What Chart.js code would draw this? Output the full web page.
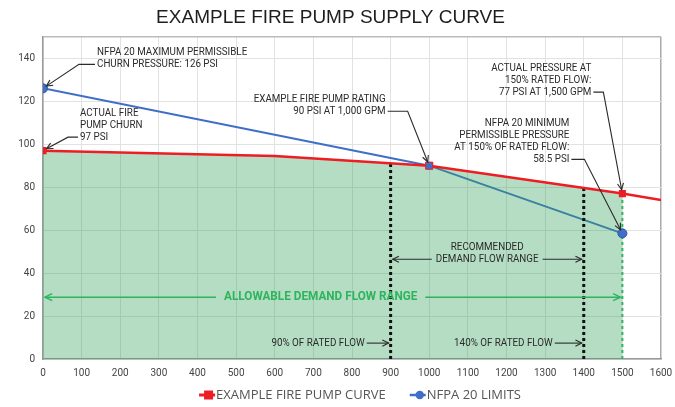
<!DOCTYPE html>
<html><head><meta charset="utf-8">
<script src="https://cdn.jsdelivr.net/npm/chart.js@4/dist/chart.umd.min.js"></script>
<style>html,body{margin:0;padding:0;background:#fff}#wrap{width:675px;height:407px}</style>
</head><body><div id="wrap"><canvas id="c" width="675" height="407"></canvas></div>
<script>
// ---- data ----
const pumpFlow = [0, 600, 1000, 1500, 1600];
const pumpPressure = [97, 94.5, 90, 77, 74];
const pumpMarked = [true, false, true, true, false];
const nfpaFlow = [0, 1000, 1500];
const nfpaPressure = [126, 90, 58.5];
const xTicks = [0,100,200,300,400,500,600,700,800,900,1000,1100,1200,1300,1400,1500,1600];
const yTicks = [0,20,40,60,80,100,120,140];
const yMax = 150;
const guideFlows = [900, 1400];        // 90% and 140% of rated flow
const guideTops = [91.3, 79.6];        // pump curve pressure at those flows
const allowableFlow = 1500;            // 150% of rated flow
const allowableTop = 77;

const RED = '#ee1d23', BLUE = '#3f6fc8', GREEN = '#2fb45e';

function pts(xs, ys){ return xs.map((x,i)=>({x:x, y:ys[i]})); }
const fillFlow = pumpFlow.filter(x => x <= allowableFlow);

const notes = [
  {lines:['NFPA 20 MAXIMUM PERMISSIBLE','CHURN PRESSURE: 126 PSI'], target:[0,126], dx:54, dy:-36, align:'left', elbow:16},
  {lines:['ACTUAL FIRE','PUMP CHURN','97 PSI'], target:[0,97], dx:37, dy:-37.5, align:'left', elbow:10},
  {lines:['EXAMPLE FIRE PUMP RATING','90 PSI AT 1,000 GPM'], target:[1000,90], dx:-43.6, dy:-66.5, align:'right', elbow:20},
  {lines:['ACTUAL PRESSURE AT','150% RATED FLOW:','77 PSI AT 1,500 GPM'], target:[1500,77], dx:-31, dy:-125.5, align:'right', elbow:10},
  {lines:['NFPA 20 MINIMUM','PERMISSIBLE PRESSURE','AT 150% OF RATED FLOW:','58.5 PSI'], target:[1500,58.5], dx:-53, dy:-110, align:'right', elbow:13}
];

const NOTE_FONT = '10px Roboto', TX = 0.98, LH = 12;

function drawText(ctx, txt, x, y, align, font, color, sx){
  ctx.save();
  ctx.font = font; ctx.fillStyle = color; ctx.textBaseline = 'middle'; ctx.textAlign = align;
  ctx.translate(x, y); ctx.scale(sx, 1); ctx.fillText(txt, 0, 0);
  ctx.restore();
}
function textW(ctx, txt, font, sx){ ctx.save(); ctx.font = font; const w = ctx.measureText(txt).width*sx; ctx.restore(); return w; }
function arrowHead(ctx, fx, fy, tx, ty, size){
  const a = Math.atan2(ty-fy, tx-fx);
  ctx.beginPath();
  ctx.moveTo(tx - size*Math.cos(a-0.45), ty - size*Math.sin(a-0.45));
  ctx.lineTo(tx, ty);
  ctx.lineTo(tx - size*Math.cos(a+0.45), ty - size*Math.sin(a+0.45));
  ctx.stroke();
}
function arrowLine(ctx, x1, y1, x2, y2, color, w, size){
  ctx.save(); ctx.strokeStyle = color; ctx.lineWidth = w;
  ctx.beginPath(); ctx.moveTo(x1,y1); ctx.lineTo(x2,y2); ctx.stroke();
  arrowHead(ctx, x1, y1, x2, y2, size);
  ctx.restore();
}

const annotations = {
  id: 'annotations',
  afterDatasetsDraw(chart){
    const ctx = chart.ctx, xs = chart.scales.x, ys = chart.scales.y;
    const ink = '#2b2b2b';
    notes.forEach(n => {
      const tx = xs.getPixelForValue(n.target[0]), ty = ys.getPixelForValue(n.target[1]);
      const x0 = tx + n.dx, y0 = ty + n.dy;
      n.lines.forEach((l,i)=> drawText(ctx, l, x0, y0 + i*LH, n.align, NOTE_FONT, ink, TX));
      const yl = y0 + (n.lines.length-1)*LH;
      const sx = n.align==='left' ? x0 - 2 : x0 + 2;
      const ex = n.align==='left' ? sx - n.elbow : sx + n.elbow;
      const ang = Math.atan2(ty - yl, tx - ex);
      const px = tx - 4*Math.cos(ang), py = ty - 4*Math.sin(ang);
      ctx.save(); ctx.strokeStyle = ink; ctx.lineWidth = 1.1;
      ctx.beginPath(); ctx.moveTo(sx, yl); ctx.lineTo(ex, yl); ctx.lineTo(px, py); ctx.stroke();
      arrowHead(ctx, ex, yl, px, py, 7);
      ctx.restore();
    });
    // recommended range
    const g1 = xs.getPixelForValue(guideFlows[0]), g2 = xs.getPixelForValue(guideFlows[1]);
    const rc = (g1+g2)/2, ry = ys.getPixelForValue(52);
    drawText(ctx, 'RECOMMENDED', rc, ry, 'center', NOTE_FONT, ink, TX);
    drawText(ctx, 'DEMAND FLOW RANGE', rc, ry+LH, 'center', NOTE_FONT, ink, TX);
    const rw = textW(ctx, 'DEMAND FLOW RANGE', NOTE_FONT, TX);
    arrowLine(ctx, rc - rw/2 - 4, ry+LH, g1 + 2, ry+LH, ink, 1.1, 7);
    arrowLine(ctx, rc + rw/2 + 4, ry+LH, g2 - 2, ry+LH, ink, 1.1, 7);
    // allowable range
    const a0 = xs.getPixelForValue(0), a1 = xs.getPixelForValue(allowableFlow);
    const ac = (a0+a1)/2 - 12, ay = ys.getPixelForValue(28.8);
    const AF = 'bold 12px Roboto';
    drawText(ctx, 'ALLOWABLE DEMAND FLOW RANGE', ac, ay, 'center', AF, GREEN, 0.98);
    const aw = textW(ctx, 'ALLOWABLE DEMAND FLOW RANGE', AF, 0.98);
    arrowLine(ctx, ac - aw/2 - 8, ay, a0 + 2, ay, GREEN, 1.5, 8);
    arrowLine(ctx, ac + aw/2 + 8, ay, a1 - 2, ay, GREEN, 1.5, 8);
    // 90% / 140%
    const by = ys.getPixelForValue(7.4);
    drawText(ctx, '90% OF RATED FLOW', g1 - 26, by, 'right', NOTE_FONT, ink, TX);
    arrowLine(ctx, g1 - 24, by, g1 - 2, by, ink, 1.1, 7);
    drawText(ctx, '140% OF RATED FLOW', g2 - 31, by, 'right', NOTE_FONT, ink, TX);
    arrowLine(ctx, g2 - 29, by, g2 - 2, by, ink, 1.1, 7);
  }
};

// custom legend (line + marker), drawn under the x axis
const lineLegend = {
  id: 'lineLegend',
  afterDraw(chart){
    const ctx = chart.ctx, ds = chart.data.datasets;
    const LF = '13px "Open Sans"', y = chart.height - 12;
    const items = [{ds: ds[0], color: RED, mark: 'rect', lw: 3}, {ds: ds[1], color: BLUE, mark: 'circle', lw: 2.5}];
    const widths = items.map(it => 16 + 1 + textW(ctx, it.ds.label, LF, 1));
    const gap = 24, total = widths[0] + widths[1] + gap;
    let x = (chart.chartArea.left + chart.chartArea.right)/2 + 8 - total/2;
    items.forEach((it, i) => {
      ctx.save();
      ctx.strokeStyle = it.color; ctx.fillStyle = it.color; ctx.lineWidth = it.lw;
      ctx.beginPath(); ctx.moveTo(x, y); ctx.lineTo(x + 16, y); ctx.stroke();
      if (it.mark === 'rect') ctx.fillRect(x + 5, y - 4.5, 9, 9);
      else { ctx.beginPath(); ctx.arc(x + 10, y, 4.2, 0, Math.PI*2); ctx.fill(); }
      ctx.restore();
      drawText(ctx, it.ds.label, x + 17, y, 'left', LF, '#555', 1);
      x += widths[i] + gap;
    });
  }
};

const guideSets = guideFlows.map((f,i)=>({
  label: 'guide'+i, data: [{x:f,y:0},{x:f,y:guideTops[i]}],
  borderColor: '#111', borderWidth: 3, borderDash: [3,3], pointRadius: 0, fill: false, order: 1
}));

new Chart(document.getElementById('c'), {
  type: 'line',
  data: { datasets: [
    { label: 'EXAMPLE FIRE PUMP CURVE', data: pts(pumpFlow, pumpPressure), borderColor: RED, backgroundColor: RED,
      borderWidth: 2.5, pointStyle: 'rect', pointRadius: pumpMarked.map(m=>m?5:0), pointBorderWidth: 0, tension: 0, fill: false, order: 0 },
    { label: 'NFPA 20 LIMITS', data: pts(nfpaFlow, nfpaPressure), borderColor: BLUE, backgroundColor: BLUE,
      borderWidth: 2, pointRadius: 0, tension: 0, fill: false, order: 3 },
    { label: 'nfpaMarkers', data: pts(nfpaFlow, nfpaPressure), showLine: false, backgroundColor: BLUE,
      pointStyle: ['circle','rect','circle'], pointRadius: [4.5,5,4.5], pointBorderColor: ['#2a55a8',RED,'#2a55a8'], pointBorderWidth: 1, order: -1 },
    { label: 'fill', data: pts(fillFlow, pumpPressure), borderWidth: 0, borderColor: 'rgba(0,0,0,0)', backgroundColor: 'rgba(46,160,90,0.36)',
      pointRadius: 0, fill: 'origin', tension: 0, order: 2 },
    ...guideSets,
    { label: 'allow', data: [{x:allowableFlow,y:0},{x:allowableFlow,y:allowableTop}], borderColor: GREEN, borderWidth: 2, borderDash: [3,3], pointRadius: 0, fill:false, order: 1 }
  ]},
  options: {
    responsive: false, animation: false,
    layout: { padding: { left: 0, right: 14, top: 0, bottom: 26 } },
    plugins: {
      tooltip: { enabled: false },
      legend: { display: false },
      title: { display: true, text: 'EXAMPLE FIRE PUMP SUPPLY CURVE', color: '#1e1e1e',
        font: { family: 'Liberation Sans', size: 19, weight: 'normal' }, padding: { top: 6, bottom: 8 } }
    },
    scales: {
      x: { type: 'linear', min: 0, max: 1600,
        afterBuildTicks: s => { s.ticks = xTicks.map(v=>({value:v})); },
        afterFit: s => { s.height = 22; s.paddingRight = 0; s.paddingLeft = 0; },
        ticks: { color: '#444', font: { family: 'Roboto', size: 10 }, padding: 8, autoSkip: false, maxRotation: 0,
          callback: v => String(v) },
        grid: { color: c => c.tick && c.tick.value === 1600 ? '#aaa' : '#e2e2e2', drawTicks: false, lineWidth: c => c.tick && c.tick.value===1600 ? 1.5 : 1 },
        border: { color: '#999', width: 1.5 } },
      y: { min: 0, max: yMax,
        afterBuildTicks: s => { s.ticks = yTicks.concat([yMax]).map(v=>({value:v})); },
        afterFit: s => { s.width = 43; },
        ticks: { color: '#444', font: { family: 'Roboto', size: 10 }, padding: 8,
          callback: v => yTicks.includes(v) ? String(v) : '' },
        grid: { color: c => c.tick && c.tick.value === yMax ? '#bbb' : '#e2e2e2', drawTicks: false, lineWidth: c => c.tick && c.tick.value===yMax ? 1.5 : 1 },
        border: { color: '#999', width: 1.5 } }
    }
  },
  plugins: [annotations, lineLegend]
});
</script></body></html>
